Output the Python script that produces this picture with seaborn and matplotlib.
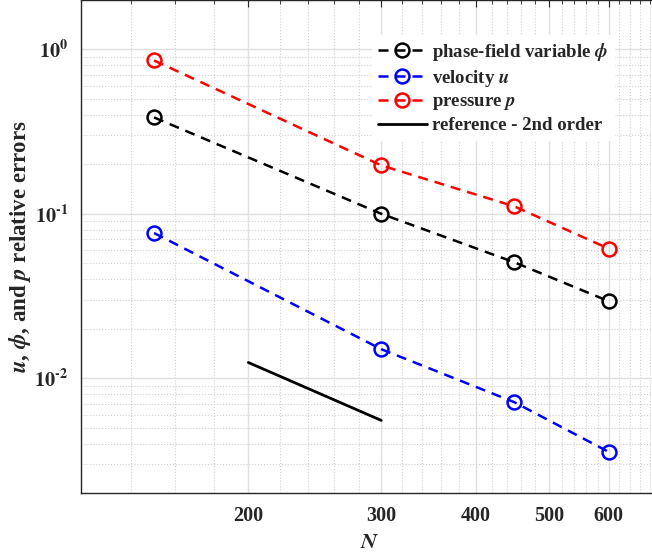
import numpy as np
import pandas as pd
import matplotlib
matplotlib.use("Agg")
import matplotlib.pyplot as plt
import matplotlib.ticker as mticker
import seaborn as sns

# data
N = [150, 300, 450, 600]
err_phi = [0.386, 0.100, 0.0507, 0.0294]
err_u = [0.0764, 0.0150, 0.00714, 0.00356]
err_p = [0.857, 0.197, 0.111, 0.0614]
N_ref = [200, 300]
err_ref = [0.01245, 0.00553]

sns.set_style("white")
plt.rcParams["font.family"] = ["Liberation Serif", "DejaVu Serif"]
plt.rcParams["font.weight"] = "bold"
plt.rcParams["mathtext.fontset"] = "stix"

fig = plt.figure(figsize=(6.52, 5.55), dpi=100)
ax = fig.add_axes([0.124, 0.1117, 0.887, 0.8883])

series = [
    (err_phi, "black", r"phase-field variable $\phi$"),
    (err_u, "blue", r"velocity $\mathbfit{u}$"),
    (err_p, "red", r"pressure $\mathbfit{p}$"),
]
for err, c, lab in series:
    sns.lineplot(x=N, y=err, ax=ax, color=c, linestyle=(0, (4, 2.8)), linewidth=1.8,
                 marker="o", markersize=10, markerfacecolor="none",
                 markeredgecolor=c, markeredgewidth=1.8, label=lab)
sns.lineplot(x=N_ref, y=err_ref, ax=ax, color="black", linewidth=2.0,
             label="reference - 2nd order")

ax.set_xscale("log")
ax.set_yscale("log")
ax.set_xlim(120, 700)
ax.set_ylim(0.002, 2)

ax.xaxis.set_major_locator(mticker.FixedLocator([200, 300, 400, 500, 600]))
ax.xaxis.set_major_formatter(mticker.FixedFormatter(["200", "300", "400", "500", "600"]))
ax.xaxis.set_minor_locator(mticker.MultipleLocator(20))
ax.xaxis.set_minor_formatter(mticker.NullFormatter())
ax.yaxis.set_major_locator(mticker.FixedLocator([1e-2, 1e-1, 1e0]))
ax.yaxis.set_major_formatter(mticker.FixedFormatter(
    [r"$\mathbf{10^{\text{-}2}}$", r"$\mathbf{10^{\text{-}1}}$", r"$\mathbf{10^{0}}$"]))
ax.yaxis.set_minor_locator(mticker.LogLocator(subs=np.arange(2, 10)))
ax.yaxis.set_minor_formatter(mticker.NullFormatter())

ax.grid(True, which="major", color="#e0e0e0", linewidth=1.0, linestyle="-")
ax.grid(True, which="minor", color="#d0d0d0", linewidth=0.8, linestyle=":")
ax.tick_params(which="both", direction="in", top=True, right=True,
               colors="#262626", labelsize=14.5)
ax.tick_params(which="major", length=5, pad=9)
ax.tick_params(which="minor", length=3)
for s in ax.spines.values():
    s.set_color("#262626")
    s.set_linewidth(1.0)

ax.set_xlabel(r"$\mathbfit{N}$", fontsize=16, color="#262626", labelpad=6)
ax.set_ylabel(r"$\mathbfit{u}$, $\mathbfit{\phi}$, and $\mathbfit{p}$ relative errors",
              fontsize=16.5, fontweight="bold", color="#262626", labelpad=1)

leg = ax.legend(loc="upper left", bbox_to_anchor=(363 / 652, 1 - 26 / 555),
                bbox_transform=fig.transFigure, prop={"size": 13.5, "weight": "bold"},
                frameon=True, framealpha=1, edgecolor="white", fancybox=False,
                handlelength=2.6, handletextpad=0.3, labelspacing=0.25,
                borderpad=0.3)

fig.savefig("out.png", dpi=100)
